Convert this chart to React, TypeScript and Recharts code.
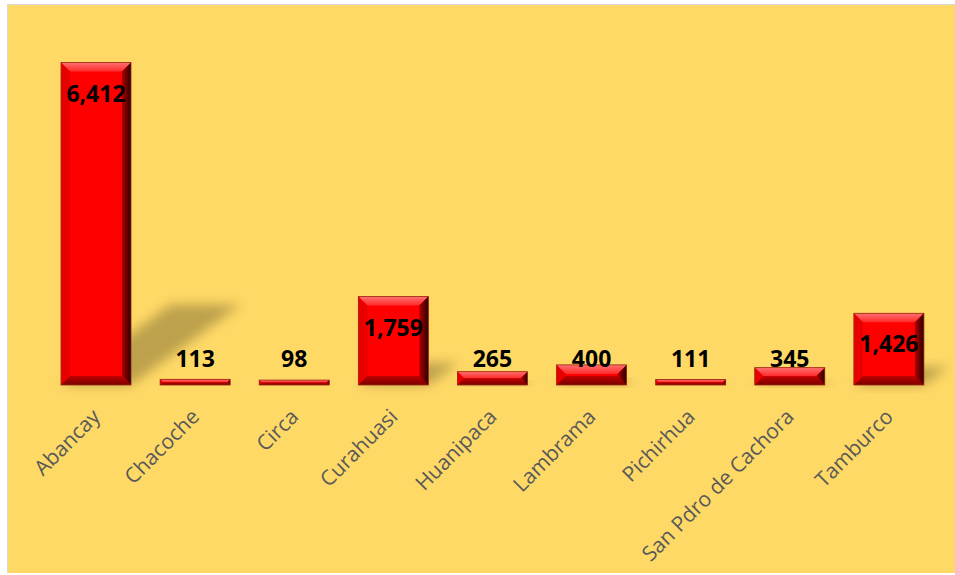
import React from 'react';
import { BarChart, Bar, XAxis, YAxis, LabelList } from 'recharts';

const districts = [
  'Abancay',
  'Chacoche',
  'Circa',
  'Curahuasi',
  'Huanipaca',
  'Lambrama',
  'Pichirhua',
  'San Pdro de Cachora',
  'Tamburco',
];
const counts = [6412, 113, 98, 1759, 265, 400, 111, 345, 1426];

const data = districts.map((name, i) => ({ name, value: counts[i] }));

const BG = '#FFD966';

// bevelled red bar with a soft perspective shadow behind it
const BevelBar = (props: any) => {
  const { x, y, width: w, height: h } = props;
  if (!h || h <= 0) return null;
  const bottom = y + h;
  const b = Math.min(9, h / 2, w / 2);
  const sh = h * 0.25;
  const dx = h * 0.34;
  return (
    <g>
      <polygon
        points={`${x},${bottom} ${x + w},${bottom} ${x + w + dx},${bottom - sh} ${x + dx},${bottom - sh}`}
        fill="#000"
        fillOpacity={0.26}
        filter="url(#shadowBlur)"
      />
      <rect x={x} y={y} width={w} height={h} fill="#FF0000" />
      <polygon points={`${x},${y} ${x + w},${y} ${x + w - b},${y + b} ${x + b},${y + b}`} fill="url(#bevTop)" />
      <polygon points={`${x},${y} ${x + b},${y + b} ${x + b},${bottom - b} ${x},${bottom}`} fill="#E80000" />
      <polygon points={`${x + w},${y} ${x + w},${bottom} ${x + w - b},${bottom - b} ${x + w - b},${y + b}`} fill="url(#bevRight)" />
      <polygon points={`${x},${bottom} ${x + w},${bottom} ${x + w - b},${bottom - b} ${x + b},${bottom - b}`} fill="url(#bevBottom)" />
      <rect x={x} y={y} width={w} height={h} fill="none" stroke="#9A2A10" strokeWidth={0.8} />
    </g>
  );
};

const ValueLabel = (props: any) => {
  const { x, y, width, height, value } = props;
  const base = y + height;
  const cy = Math.min(y + 30, base - 27);
  return (
    <text
      x={x + width / 2}
      y={cy}
      textAnchor="middle"
      dominantBaseline="central"
      fontFamily="'Open Sans', sans-serif"
      fontWeight={700}
      fontSize={23}
      fill="#000"
    >
      {Number(value).toLocaleString('en-US')}
    </text>
  );
};

const DistrictTick = (props: any) => {
  const { x, y, payload } = props;
  const tx = x + 6;
  const ty = y + 33;
  return (
    <text
      x={tx}
      y={ty}
      textAnchor="end"
      transform={`rotate(-45, ${tx}, ${ty})`}
      fontFamily="'Open Sans', sans-serif"
      fontSize={21}
      fill="#595959"
    >
      {payload.value}
    </text>
  );
};

export default function App() {
  return (
    <div style={{ position: 'absolute', left: 0, top: 0, width: 955, height: 575 }}>
      <div
        style={{
          position: 'absolute',
          left: 7,
          top: 4,
          width: 947,
          height: 568,
          background: BG,
          borderLeft: '1px solid #D9D9D9',
          borderTop: '1px solid #D9D9D9',
        }}
      />
      <div style={{ position: 'absolute', left: 0, top: 0 }}>
        <BarChart
          width={955}
          height={575}
          data={data}
          margin={{ top: 33, right: 17, left: 46, bottom: 40 }}
          barSize={70}
        >
          <defs>
            <filter id="shadowBlur" x="-50%" y="-50%" width="200%" height="200%">
              <feGaussianBlur stdDeviation="6" />
            </filter>
            <linearGradient id="bevTop" x1="0" y1="0" x2="0" y2="1">
              <stop offset="0%" stopColor="#FF7070" />
              <stop offset="100%" stopColor="#FF2A2A" />
            </linearGradient>
            <linearGradient id="bevRight" x1="0" y1="0" x2="1" y2="0">
              <stop offset="0%" stopColor="#B00000" />
              <stop offset="100%" stopColor="#2A0000" />
            </linearGradient>
            <linearGradient id="bevBottom" x1="0" y1="0" x2="0" y2="1">
              <stop offset="0%" stopColor="#C00000" />
              <stop offset="100%" stopColor="#7A0000" />
            </linearGradient>
          </defs>
          <XAxis
            dataKey="name"
            axisLine={false}
            tickLine={false}
            tickSize={0}
            tickMargin={0}
            interval={0}
            height={150}
            tick={<DistrictTick />}
          />
          <YAxis hide domain={[0, 7000]} />
          <Bar dataKey="value" shape={<BevelBar />} isAnimationActive={false}>
            <LabelList dataKey="value" content={<ValueLabel />} />
          </Bar>
        </BarChart>
      </div>
    </div>
  );
}
